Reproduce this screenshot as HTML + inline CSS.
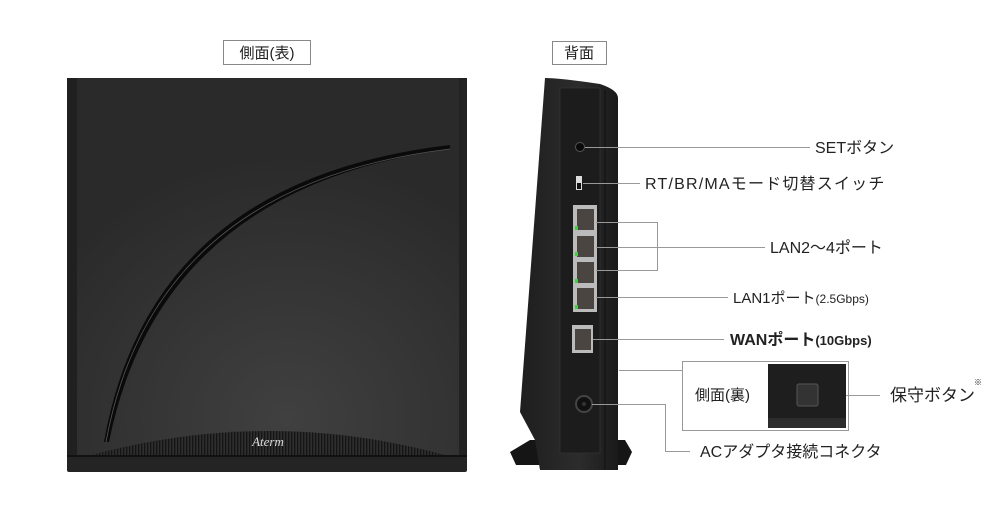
<!DOCTYPE html>
<html><head><meta charset="utf-8"><style>
html,body{margin:0;padding:0;background:#fff;width:1000px;height:520px;overflow:hidden}
svg{display:block}
text{font-family:"Liberation Sans","Noto Sans CJK JP",sans-serif;fill:#222}
</style></head><body>
<svg width="1000" height="520" viewBox="0 0 1000 520" xmlns="http://www.w3.org/2000/svg">
<defs>
<radialGradient id="g1" cx="0.55" cy="0.9" r="0.7">
<stop offset="0" stop-color="#404040"/><stop offset="1" stop-color="#2a2a2a"/></radialGradient>
<linearGradient id="g2" x1="0" x2="1"><stop offset="0" stop-color="#1e1e1e"/><stop offset="0.6" stop-color="#2c2c2c"/><stop offset="1" stop-color="#1a1a1a"/></linearGradient>
<pattern id="vent" width="3" height="10" patternUnits="userSpaceOnUse"><rect width="3" height="10" fill="#2e2e2e"/><rect width="1.3" height="10" fill="#151515"/></pattern>
</defs>
<rect x="223.5" y="40.5" width="87" height="24" fill="#fff" stroke="#888"/>
<text x="267" y="58" font-size="15" text-anchor="middle">側面(表)</text>
<path d="M75 78 H460 Q467 78 467 86 V456 H67 V86 Q67 78 75 78Z" fill="url(#g1)"/>
<rect x="67" y="78" width="10" height="378" fill="#202020"/>
<rect x="459" y="78" width="8" height="378" fill="#222"/>
<path d="M104 442 Q150 180 450 145 L450 149 Q160 188 109 442Z" fill="#0a0a0a"/>
<path d="M106 442 Q153 185 450 149" stroke="#555" stroke-width="0.8" fill="none"/>
<path d="M84 457 Q270 405 452 457Z" fill="url(#vent)"/>
<text x="268" y="446" font-size="13" font-style="italic" text-anchor="middle" style="fill:#ddd;font-family:'Liberation Serif',serif">Aterm</text>
<rect x="67" y="455" width="400" height="17" rx="2" fill="#242424"/>
<rect x="67" y="455" width="400" height="2" fill="#111"/>
<rect x="552.5" y="41.5" width="54" height="23" fill="#fff" stroke="#888"/>
<text x="579" y="58" font-size="15" text-anchor="middle">背面</text>
<path d="M510 452 L530 440 H625 L632 452 L626 465 H516Z" fill="#151515"/>
<path d="M545 78 Q560 78 600 84 Q618 90 618 98 V470 H540 L535 440 L520 412 Z" fill="url(#g2)"/>
<rect x="560" y="88" width="40" height="365" fill="#1c1c1c" stroke="#333" stroke-width="0.8"/>
<line x1="605" y1="90" x2="605" y2="470" stroke="#111"/>
<circle cx="580" cy="147" r="4.5" fill="#0a0a0a" stroke="#555"/>
<rect x="576" y="176" width="6" height="14" fill="#ddd"/><rect x="577" y="183" width="4" height="6" fill="#111"/>
<rect x="573" y="205" width="24" height="107" fill="#bbb"/>
<g fill="#4a4540"><rect x="577" y="209" width="17" height="21"/><rect x="577" y="236" width="17" height="21"/><rect x="577" y="262" width="17" height="21"/><rect x="577" y="288" width="17" height="21"/></g>
<g fill="#4c4"><rect x="575" y="226" width="3" height="4"/><rect x="575" y="252" width="3" height="4"/><rect x="575" y="279" width="3" height="4"/><rect x="575" y="305" width="3" height="4"/></g>
<rect x="572" y="325" width="21" height="28" fill="#bbb"/><rect x="575" y="329" width="16" height="21" fill="#4a4540"/>
<circle cx="584" cy="404" r="8" fill="#111" stroke="#444" stroke-width="2"/>
<circle cx="584" cy="404" r="2" fill="#333"/>
<g stroke="#999" stroke-width="1" fill="none">
<line x1="585" y1="147.5" x2="810" y2="147.5"/>
<line x1="583" y1="183.5" x2="640" y2="183.5"/>
<polyline points="596,222.5 657.5,222.5 657.5,270.5 596,270.5"/>
<line x1="596" y1="247.5" x2="765" y2="247.5"/>
<line x1="596" y1="297.5" x2="728" y2="297.5"/>
<line x1="593" y1="339.5" x2="724" y2="339.5"/>
<polyline points="619,370.5 682.5,370.5"/>
<rect x="682.5" y="361.5" width="166" height="69"/>
<polyline points="592,404.5 665.5,404.5 665.5,451.5 690,451.5"/>
<line x1="818" y1="395.5" x2="880" y2="395.5"/>
</g>
<rect x="768" y="364" width="78" height="64" fill="#1e1e1e"/>
<path d="M768 418 L846 418 V428 H768Z" fill="#2c2c2c"/>
<rect x="797" y="384" width="21" height="22" rx="2" fill="#333" stroke="#555"/>
<text x="815" y="153" font-size="16">SETボタン</text>
<text x="645" y="189" font-size="16" letter-spacing="1.2">RT/BR/MAモード切替スイッチ</text>
<text x="770" y="253" font-size="16">LAN2〜4ポート</text>
<text x="733" y="303" font-size="15">LAN1ポート<tspan font-size="12">(2.5Gbps)</tspan></text>
<text x="730" y="345" font-size="16" font-weight="bold">WANポート<tspan font-size="13">(10Gbps)</tspan></text>
<text x="695" y="400" font-size="15">側面(裏)</text>
<text x="890" y="401" font-size="17">保守ボタン</text>
<text x="974" y="385" font-size="8">※</text>
<text x="700" y="457" font-size="16">ACアダプタ接続コネクタ</text>
</svg>
</body></html>
